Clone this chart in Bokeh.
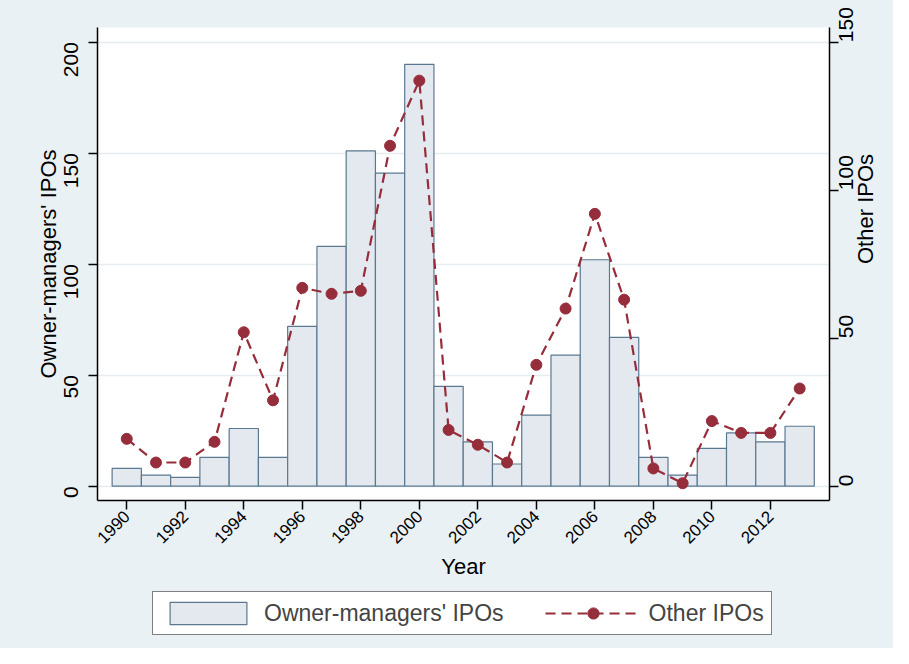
import math
from bokeh.plotting import figure
from bokeh.layouts import column, row
from bokeh.models import Range1d, LinearAxis, FixedTicker, Legend, LegendItem, ColumnDataSource, Title
from bokeh.embed import file_html
from bokeh.resources import INLINE

years = list(range(1990, 2014))
owner_ipos = [8, 5, 4, 13, 26, 13, 72, 108, 151, 141, 190, 45, 20, 10, 32, 59, 102, 67, 13, 5, 17, 24, 20, 27]
other_ipos = [16, 8, 8, 15, 52, 29, 67, 65, 66, 115, 137, 19, 14, 8, 41, 60, 92, 63, 6, 1, 22, 18, 18, 33]
left_ticks = [0, 50, 100, 150, 200]
right_ticks = [0, 50, 100, 150]
x_ticks = list(range(1990, 2013, 2))

FONT = "Liberation Sans"
BG = "#eaf1f4"
BAR_FILL = "#e3e9ef"
BAR_LINE = "#5b7891"
RED = "#962d3b"

W, H_MAIN, H_LEG = 893, 588, 60
FRAME_L, FRAME_R = 97, 829

src = ColumnDataSource(dict(year=years, owner=owner_ipos, other=other_ipos))

has_orient = "axis_label_orientation" in LinearAxis().properties()
main_w = W if has_orient else 866

p = figure(width=main_w, height=H_MAIN, output_backend="svg", toolbar_location=None,
           x_range=Range1d(1989, 2014.02), y_range=Range1d(-6.44, 206.6),
           min_border_left=FRAME_L, min_border_right=main_w - FRAME_R, min_border_top=27,
           min_border_bottom=H_MAIN - 500)
p.extra_y_ranges = {"right": Range1d(-6.44 * 0.75, 206.6 * 0.75)}

p.background_fill_color = "white"
p.border_fill_color = BG
p.outline_line_color = None

bars = p.vbar(x="year", top="owner", bottom=0, width=1.0, source=src,
              fill_color=BAR_FILL, line_color=BAR_LINE, line_width=1.2)
line = p.line(x="year", y="other", source=src, y_range_name="right",
              line_color=RED, line_width=2.2, line_dash="10 6")
pts = p.scatter(x="year", y="other", source=src, y_range_name="right",
                size=11, fill_color=RED, line_color=RED)

def style_axis(ax):
    ax.axis_line_color = "black"
    ax.axis_line_width = 1.5
    ax.major_tick_line_color = "black"
    ax.major_tick_line_width = 1.5
    ax.major_tick_out = 9
    ax.major_tick_in = 0
    ax.minor_tick_line_color = None
    ax.major_label_text_font = FONT
    ax.major_label_text_font_size = "21px"
    ax.major_label_text_color = "black"
    ax.axis_label_text_font = FONT
    ax.axis_label_text_font_size = "22px"
    ax.axis_label_text_font_style = "normal"
    ax.axis_label_text_color = "black"
    ax.major_label_standoff = 8

# x axis
xa = p.xaxis[0]
style_axis(xa)
xa.ticker = FixedTicker(ticks=x_ticks)
xa.major_label_orientation = math.pi / 4
xa.major_label_standoff = 4
xa.axis_label = "Year"
xa.axis_label_standoff = 2
xa.major_label_text_font_size = "17px"

# left axis
ya = p.yaxis[0]
style_axis(ya)
ya.ticker = FixedTicker(ticks=left_ticks)
ya.major_label_orientation = math.pi / 2
ya.major_label_standoff = 17
ya.axis_label = "Owner-managers' IPOs"
ya.axis_label_standoff = -6

# right axis
ra = LinearAxis(y_range_name="right", ticker=FixedTicker(ticks=right_ticks))
style_axis(ra)
ra.major_label_orientation = math.pi / 2
ra.major_label_standoff = 8
if has_orient:
    ra.axis_label = "Other IPOs"
    ra.axis_label_standoff = 2
    ra.axis_label_orientation = math.pi / 2
p.add_layout(ra, "right")

p.xgrid.grid_line_color = None
p.ygrid.grid_line_color = "#e4ecef"
p.ygrid.grid_line_width = 1.5
p.ygrid.ticker = FixedTicker(ticks=left_ticks)

# legend strip below the plot (its frame is aligned with the main frame)
q = figure(width=W, height=H_LEG, output_backend="svg", toolbar_location=None,
           x_range=Range1d(0, 1), y_range=Range1d(0, 1),
           x_axis_location=None, y_axis_location=None,
           min_border_left=FRAME_L, min_border_right=W - FRAME_R, min_border_top=0, min_border_bottom=0)
q.background_fill_alpha = 0
q.border_fill_alpha = 0
q.outline_line_color = None
q.grid.visible = False
dummy = ColumnDataSource(dict(x=[-10], y=[-10]))
lb = q.vbar(x="x", top="y", bottom=-11, width=1, source=dummy, fill_color=BAR_FILL, line_color=BAR_LINE, line_width=1.2)
ll = q.line(x="x", y="y", source=dummy, line_color=RED, line_width=2.2, line_dash="10 6")
ls = q.scatter(x="x", y="y", source=dummy, size=11, fill_color=RED, line_color=RED)
legend = Legend(items=[LegendItem(label="Owner-managers' IPOs", renderers=[lb]),
                       LegendItem(label="Other IPOs", renderers=[ll, ls])],
                orientation="horizontal", location=(152 - FRAME_L, 13),
                glyph_width=96, glyph_height=28, label_height=23,
                label_standoff=8, spacing=41, padding=7, margin=0,
                label_text_font=FONT, label_text_font_size="23px",
                border_line_color="black", border_line_width=1.5,
                background_fill_color="white", background_fill_alpha=1.0)
q.add_layout(legend, "center")

if has_orient:
    top = p
else:
    r = figure(width=W - main_w, height=H_MAIN, output_backend="svg", toolbar_location=None,
               x_range=Range1d(0, 1), y_range=Range1d(0, 1),
               x_axis_location=None, y_axis_location=None,
               min_border_left=0, min_border_right=0, min_border_top=27, min_border_bottom=H_MAIN - 500)
    r.background_fill_color = BG
    r.border_fill_color = BG
    r.outline_line_color = None
    r.grid.visible = False
    r.add_layout(Title(text="Other IPOs", align="center", text_font=FONT, text_font_size="22px",
                       text_font_style="normal", text_color="black", standoff=0, offset=0), "left")
    top = row(p, r, spacing=0)

layout = column(top, q, spacing=0, styles={"background-color": BG})
open("out.html", "w").write(file_html(layout, INLINE))
